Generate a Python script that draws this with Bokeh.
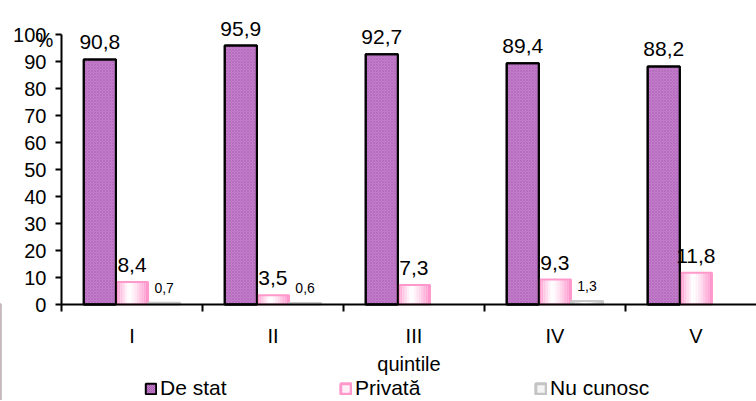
from bokeh.plotting import figure
from bokeh.models import (Range1d, FixedTicker, Legend, LegendItem, Label,
                          ColumnDataSource)
from bokeh.core.properties import value
from bokeh.embed import file_html
from bokeh.resources import INLINE

categories = ["I", "II", "III", "IV", "V"]
de_stat = [90.8, 95.9, 92.7, 89.4, 88.2]
privata = [8.4, 3.5, 7.3, 9.3, 11.8]
nu_cunosc = [0.7, 0.6, 0.0, 1.3, 0.0]
series_names = ["De stat", "Privată", "Nu cunosc"]
y_ticks = [0, 10, 20, 30, 40, 50, 60, 70, 80, 90, 100]
x_title = "quintile"
y_unit = "%"

FONT = "Liberation Sans"
FS = "20px"
BW = 0.228
centers = [i + 0.5 for i in range(len(categories))]

p = figure(width=756, height=400, output_backend="svg", toolbar_location=None,
           x_range=Range1d(-0.4326, 4.93), y_range=Range1d(-35.5, 112.6),
           min_border_left=0, min_border_right=0, min_border_top=0,
           min_border_bottom=0)
p.outline_line_color = None
p.xgrid.visible = False
p.ygrid.visible = False
p.background_fill_color = "white"
p.border_fill_color = "white"

def mix(c1, c2, t):
    a = [int(c1[i:i + 2], 16) for i in (1, 3, 5)]
    b = [int(c2[i:i + 2], 16) for i in (1, 3, 5)]
    return "#%02x%02x%02x" % tuple(round(a[k] + (b[k] - a[k]) * t) for k in range(3))

PURPLE = "#C47CCB"
HATCH = "#9A55A6"

# De stat bars (hatched purple)
x_ds = [c - BW for c in centers]
p.vbar(x=x_ds, top=de_stat, width=BW, fill_color=PURPLE,
       hatch_pattern="x", hatch_color=HATCH, hatch_scale=3,
       hatch_weight=0.6, hatch_alpha=0.6, line_color="black", line_width=2)

def gradient_bars(xs, tops, edge, outline, nstrips=14):
    sx, stop, scol = [], [], []
    w = BW / nstrips
    for x, t in zip(xs, tops):
        if t <= 0:
            continue
        for k in range(nstrips):
            pos = (k + 0.5) / nstrips
            d = abs(pos - 0.42) / (0.42 if pos < 0.42 else 0.58)
            sx.append(x - BW / 2 + w * (k + 0.5))
            stop.append(t)
            scol.append(mix("#ffffff", edge, min(1, d ** 1.3)))
    p.vbar(x=sx, top=stop, width=w * 1.02, fill_color=scol, line_color=None)
    xs2 = [x for x, t in zip(xs, tops) if t > 0]
    t2 = [t for t in tops if t > 0]
    return p.vbar(x=xs2, top=t2, width=BW, fill_color=None,
                  line_color=outline, line_width=2)

x_pr = centers
gradient_bars(x_pr, privata, "#FF8CC8", "#FF99CC")
x_nc = [c + BW for c in centers]
gradient_bars(x_nc, nu_cunosc, "#B8B8B8", "#C8C8C8")

# redraw De stat outline on top
p.vbar(x=x_ds, top=de_stat, width=BW, fill_color=None, line_color="black", line_width=2)

def fmt(v):
    return ("%.1f" % v).replace(".", ",")

def labels(xs, vals, size, off):
    src = ColumnDataSource(dict(x=[x for x, v in zip(xs, vals) if v > 0],
                                y=[v for v in vals if v > 0],
                                t=[fmt(v) for v in vals if v > 0]))
    p.text(x="x", y="y", text="t", source=src, text_align="center",
           text_baseline="alphabetic", y_offset=-off,
           text_font=value(FONT), text_font_size=size, text_color="black")

labels(x_ds, de_stat, "21px", 17)
labels(x_pr, privata, "21px", 17)
labels(x_nc, nu_cunosc, "14px", 15)

# Axes
ya = p.yaxis[0]
ya.fixed_location = 0
ya.ticker = FixedTicker(ticks=y_ticks)
ya.bounds = (0, 100)
ya.axis_line_width = 2
ya.axis_line_color = "black"
ya.major_tick_line_width = 2
ya.major_tick_in = 0
ya.major_tick_out = 6
ya.minor_tick_line_color = None
ya.major_label_text_font = FONT
ya.major_label_text_font_size = FS
ya.major_label_text_color = "black"
ya.major_label_standoff = 9

xa = p.xaxis[0]
xa.fixed_location = 0
xa.bounds = (0, 5)
xa.ticker = FixedTicker(ticks=centers, minor_ticks=list(range(len(categories) + 1)))
xa.major_label_overrides = {c: lab for c, lab in zip(centers, categories)}
xa.axis_line_width = 2
xa.axis_line_color = "black"
xa.major_tick_line_color = None
xa.major_tick_in = 0
xa.major_tick_out = 7
xa.minor_tick_line_color = "black"
xa.minor_tick_line_width = 2
xa.minor_tick_in = 0
xa.minor_tick_out = 7
xa.major_label_standoff = 13
xa.major_label_text_font = FONT
xa.major_label_text_font_size = FS
xa.major_label_text_color = "black"
xa.axis_label = x_title
xa.axis_label_standoff = 3
xa.axis_label_text_font = FONT
xa.axis_label_text_font_size = FS
xa.axis_label_text_font_style = "normal"
xa.axis_label_text_color = "black"

p.add_layout(Label(x=-0.185, y=98.0, x_units="data", y_units="data", text=y_unit,
                   text_font=FONT, text_font_size=FS, text_color="black",
                   text_baseline="alphabetic"))

# Legend proxies (drawn outside the visible range)
lg1 = p.vbar(x=[-10], top=[-100], width=0.1, fill_color=PURPLE,
             hatch_pattern="x", hatch_color=HATCH, hatch_scale=2, hatch_alpha=0.6,
             line_color="black", line_width=2)
lg2 = p.vbar(x=[-10], top=[-100], width=0.1, fill_color="#FFF0F8",
             line_color="#FF99CC", line_width=3)
lg3 = p.vbar(x=[-10], top=[-100], width=0.1, fill_color="#F4F4F4",
             line_color="#C4C4C4", line_width=3)
legend = Legend(items=[LegendItem(label=series_names[0], renderers=[lg1]),
                       LegendItem(label=series_names[1], renderers=[lg2]),
                       LegendItem(label=series_names[2], renderers=[lg3])],
                orientation="horizontal", location=(144, 0),
                label_text_font=FONT, label_text_font_size="21px",
                label_text_color="black", glyph_width=13, glyph_height=13,
                label_standoff=3, label_width=150, spacing=29, padding=0,
                margin=0, border_line_color=None, background_fill_alpha=0)
p.add_layout(legend, "center")

open("out.html", "w").write(file_html(p, INLINE))
